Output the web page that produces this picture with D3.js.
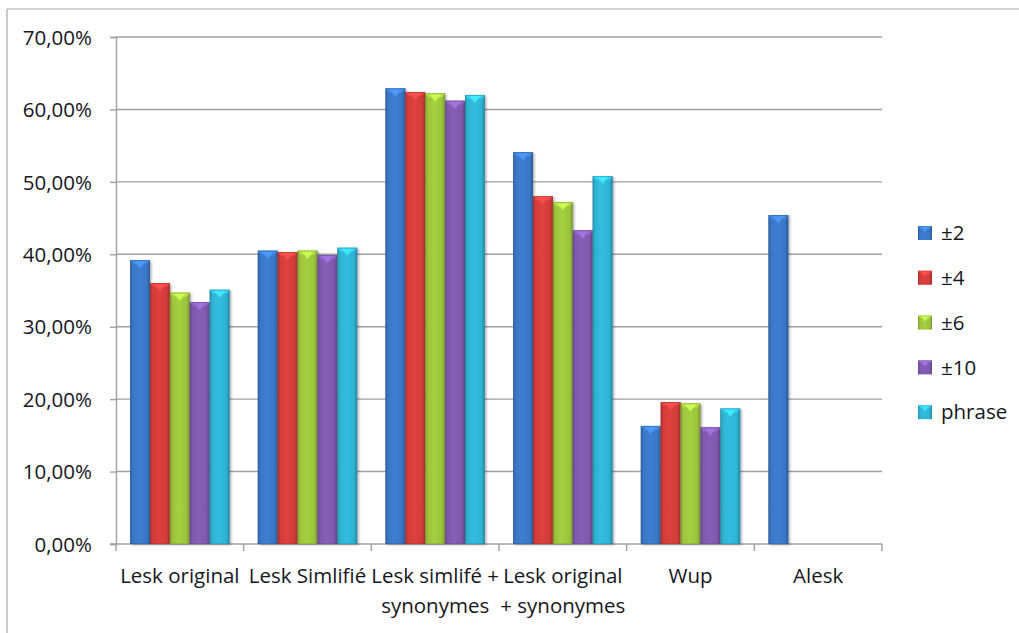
<!DOCTYPE html>
<html>
<head>
<meta charset="utf-8">
<script src="https://cdn.jsdelivr.net/npm/d3@7"></script>
<style>
  html, body { margin: 0; padding: 0; background: #fff; }
  svg { display: block; }
  text { font-family: "Open Sans", "Noto Sans", sans-serif; fill: #16161e; }
</style>
</head>
<body>
<svg id="chart" width="1019" height="633"></svg>
<script>
// Accuracy of each method, per context window size
const categories = ["Lesk original", "Lesk Simlifié", "Lesk simlifé + synonymes", "Lesk original + synonymes", "Wup", "Alesk"];
const categoryLines = [["Lesk original"], ["Lesk Simlifié"], ["Lesk simlifé +", "synonymes"], ["Lesk original", "+ synonymes"], ["Wup"], ["Alesk"]];
const seriesNames = ["±2", "±4", "±6", "±10", "phrase"];
const seriesColors = ["#3a77c6", "#d23d3b", "#9dc43d", "#7f59ad", "#2fb3d4"];
const valsPm2    = [0.392, 0.405, 0.629, 0.541, 0.163, 0.454];
const valsPm4    = [0.360, 0.403, 0.624, 0.480, 0.196, null];
const valsPm6    = [0.347, 0.405, 0.622, 0.472, 0.194, null];
const valsPm10   = [0.334, 0.399, 0.612, 0.433, 0.161, null];
const valsPhrase = [0.351, 0.409, 0.620, 0.508, 0.187, null];
const seriesValues = [valsPm2, valsPm4, valsPm6, valsPm10, valsPhrase];
const yTicks = [0, 0.1, 0.2, 0.3, 0.4, 0.5, 0.6, 0.7];

const svg = d3.select("#chart");
const plot = { left: 116, right: 882, top: 37, bottom: 544 };
const fontSize = "20.5px";

const fr = d3.formatLocale({ decimal: ",", thousands: " ", grouping: [3], currency: ["", "€"] });
const fmt = fr.format(".2%");

const x = d3.scaleBand().domain(categories).range([plot.left, plot.right]).padding(0);
const xs = d3.scaleBand().domain(seriesNames).range([0, x.bandwidth()]).paddingInner(0).paddingOuter(0.71);
const y = d3.scaleLinear().domain([0, 0.7]).range([plot.bottom, plot.top]);

const defs = svg.append("defs");
const shadow = defs.append("filter").attr("id", "shadow").attr("x", "-20%").attr("y", "-10%").attr("width", "160%").attr("height", "130%");
shadow.append("feDropShadow").attr("dx", 1.5).attr("dy", 1).attr("stdDeviation", 1.2).attr("flood-color", "#000").attr("flood-opacity", 0.3);

seriesColors.forEach((c, i) => {
  const base = d3.color(c);
  const g = defs.append("linearGradient").attr("id", "grad" + i).attr("x1", 0).attr("x2", 1).attr("y1", 0).attr("y2", 0);
  g.append("stop").attr("offset", "0%").attr("stop-color", base.darker(0.6));
  g.append("stop").attr("offset", "14%").attr("stop-color", base);
  g.append("stop").attr("offset", "45%").attr("stop-color", base.brighter(0.15));
  g.append("stop").attr("offset", "82%").attr("stop-color", base);
  g.append("stop").attr("offset", "100%").attr("stop-color", base.darker(0.7));
});

// Outer frame
svg.append("line").attr("x1", 7).attr("x2", 1019).attr("y1", 9).attr("y2", 9).attr("stroke", "#a8a8a8").attr("stroke-width", 1.2);
svg.append("line").attr("x1", 7).attr("x2", 7).attr("y1", 9).attr("y2", 633).attr("stroke", "#a8a8a8").attr("stroke-width", 1.2);

// Gridlines
svg.append("g").selectAll("line").data(yTicks.filter(d => d > 0)).join("line")
  .attr("x1", plot.left).attr("x2", plot.right)
  .attr("y1", d => y(d)).attr("y2", d => y(d))
  .attr("stroke", "#a0a0a0").attr("stroke-width", 1.4);

// Y axis
const yAxis = svg.append("g").attr("transform", `translate(${plot.left},0)`)
  .call(d3.axisLeft(y).tickValues(yTicks).tickFormat(fmt).tickSize(6).tickPadding(18));
yAxis.select(".domain").attr("stroke", "#a0a0a0").attr("stroke-width", 1.4);
yAxis.selectAll(".tick line").attr("stroke", "#a0a0a0").attr("stroke-width", 1.4);
yAxis.selectAll(".tick text").style("font-size", fontSize).attr("fill", "#16161e").attr("dy", "0.35em");

// X axis line and category boundary ticks
svg.append("line").attr("x1", plot.left - 6).attr("x2", plot.right).attr("y1", plot.bottom).attr("y2", plot.bottom)
  .attr("stroke", "#a0a0a0").attr("stroke-width", 1.4);
const bounds = categories.map(c => x(c)).concat([x(categories[categories.length - 1]) + x.bandwidth()]);
svg.append("g").selectAll("line").data(bounds).join("line")
  .attr("x1", d => d).attr("x2", d => d).attr("y1", plot.bottom).attr("y2", plot.bottom + 7)
  .attr("stroke", "#a0a0a0").attr("stroke-width", 1.4);

// Category labels
const xl = svg.append("g").selectAll("text").data(categories).join("text")
  .attr("text-anchor", "middle").style("font-size", fontSize)
  .attr("transform", c => `translate(${x(c) + x.bandwidth() / 2},583)`);
xl.selectAll("tspan").data((c, i) => categoryLines[i]).join("tspan")
  .attr("x", 0).attr("y", (d, j) => j * 30).text(d => d);

// Bars
const barData = [];
categories.forEach((c, ci) => {
  seriesNames.forEach((s, si) => {
    const v = seriesValues[si][ci];
    if (v != null) barData.push({ c, s, si, v });
  });
});

const bars = svg.append("g").selectAll("g").data(barData).join("g").attr("filter", "url(#shadow)");
bars.each(function (d) {
  const g = d3.select(this);
  const bx = x(d.c) + xs(d.s);
  const bw = xs.bandwidth();
  const by = y(d.v);
  const bh = y(0) - by;
  const base = d3.color(seriesColors[d.si]);
  g.append("rect").attr("x", bx).attr("y", by).attr("width", bw).attr("height", bh)
    .attr("fill", `url(#grad${d.si})`);
  // top bevel band
  g.append("polygon")
    .attr("points", [[bx, by], [bx + bw, by], [bx + bw - 3, by + 4], [bx + 3, by + 4]].map(p => p.join(",")).join(" "))
    .attr("fill", base.brighter(0.35));
  // chevron highlight on the top face
  g.append("polygon")
    .attr("points", [[bx + bw * 0.2, by + 1], [bx + bw * 0.8, by + 1], [bx + bw / 2, by + 8]].map(p => p.join(",")).join(" "))
    .attr("fill", base.brighter(0.8)).attr("opacity", 0.85);
  // thin dark outline
  g.append("rect").attr("x", bx + 0.3).attr("y", by + 0.3).attr("width", bw - 0.6).attr("height", bh - 0.6)
    .attr("fill", "none").attr("stroke", base.darker(0.8)).attr("stroke-width", 0.6).attr("opacity", 0.6);
});

// Legend
const legend = svg.append("g").selectAll("g").data(seriesNames).join("g")
  .attr("transform", (d, i) => `translate(918,${233 + i * 44.8})`);
legend.append("rect").attr("x", 0).attr("y", -7).attr("width", 14).attr("height", 14)
  .attr("fill", (d, i) => `url(#grad${i})`);
legend.append("polygon").attr("points", "0,-7 14,-7 11,-4 3,-4").attr("fill", (d, i) => d3.color(seriesColors[i]).brighter(0.4));
legend.append("polygon").attr("points", "3,-6 11,-6 7,-1").attr("fill", (d, i) => d3.color(seriesColors[i]).brighter(0.8)).attr("opacity", 0.8);
legend.append("text").attr("x", 23).attr("dy", "0.35em").style("font-size", fontSize).text(d => d);
</script>
</body>
</html>
